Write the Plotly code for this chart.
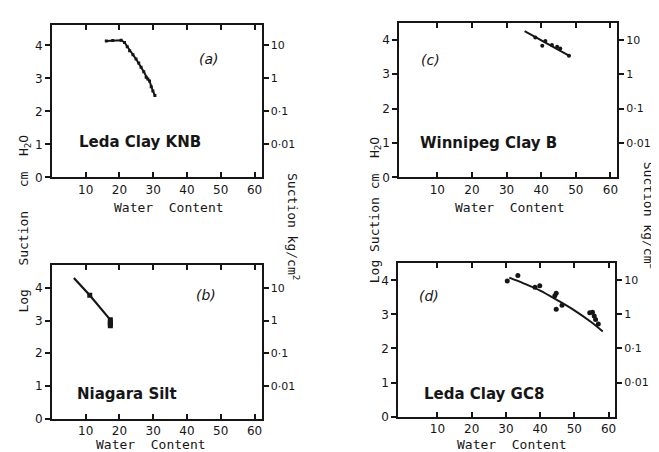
import plotly.graph_objects as go

# ---------------- data ----------------
# (a) Leda Clay KNB
a_w = [16.1, 18.0, 20.5, 21.5, 22.3, 23.0, 24.0, 24.9, 25.7, 26.4, 27.2, 27.9, 28.4, 28.9, 29.4, 29.9, 30.5]
a_s = [4.14, 4.15, 4.16, 4.09, 3.96, 3.84, 3.72, 3.59, 3.47, 3.34, 3.20, 3.04, 2.98, 2.92, 2.75, 2.62, 2.48]
# (b) Niagara Silt
b_w = [6.5, 11.2, 17.3]
b_s = [4.30, 3.77, 3.02]
b_pts_w = [11.2, 17.3, 17.3, 17.3, 17.3]
b_pts_s = [3.77, 3.02, 2.95, 2.89, 2.84]
# (c) Winnipeg Clay B
c_fit_w = [35.2, 48.4]
c_fit_s = [4.26, 3.52]
c_w = [38.3, 40.3, 41.2, 43.1, 44.6, 45.5, 48.0]
c_s = [4.07, 3.83, 3.97, 3.85, 3.80, 3.75, 3.54]
# (d) Leda Clay GC8
d_fit_w = [31.0, 35.0, 40.0, 45.0, 50.0, 55.0, 58.3]
d_fit_s = [4.08, 3.92, 3.70, 3.42, 3.12, 2.77, 2.50]
d_w = [30.4, 33.5, 38.5, 39.9, 44.3, 44.7, 44.7, 46.4, 54.5, 55.3, 55.8, 56.2, 57.0]
d_s = [3.98, 4.14, 3.80, 3.84, 3.55, 3.62, 3.15, 3.27, 3.05, 3.06, 2.95, 2.85, 2.72]

x_ticks = [10, 20, 30, 40, 50, 60]
y_ticks = [0, 1, 2, 3, 4]
r_tickvals = [1, 2, 3, 4]
r_ticktext = ["0\u00b701", "0\u00b71", "1", "10"]

W, H = 659, 452
INK = "#161616"


def px(x, y):
    return x / W, 1 - y / H


fig = go.Figure()

# panel (a)
fig.add_trace(go.Scatter(x=a_w, y=a_s, mode="lines+markers", xaxis="x", yaxis="y",
                         line=dict(color=INK, width=2), marker=dict(color=INK, size=3, symbol="square")))
# panel (b)
fig.add_trace(go.Scatter(x=b_w, y=b_s, mode="lines", xaxis="x2", yaxis="y2",
                         line=dict(color=INK, width=2.2)))
fig.add_trace(go.Scatter(x=b_pts_w, y=b_pts_s, mode="markers", xaxis="x2", yaxis="y2",
                         marker=dict(color=INK, size=5, symbol="square")))
# panel (c)
fig.add_trace(go.Scatter(x=c_fit_w, y=c_fit_s, mode="lines", xaxis="x3", yaxis="y3",
                         line=dict(color=INK, width=2)))
fig.add_trace(go.Scatter(x=c_w, y=c_s, mode="markers", xaxis="x3", yaxis="y3",
                         marker=dict(color=INK, size=4)))
# panel (d)
fig.add_trace(go.Scatter(x=d_fit_w, y=d_fit_s, mode="lines", xaxis="x4", yaxis="y4",
                         line=dict(color=INK, width=2, shape="spline")))
fig.add_trace(go.Scatter(x=d_w, y=d_s, mode="markers", xaxis="x4", yaxis="y4",
                         marker=dict(color=INK, size=5)))
# invisible traces for right axes
for k in range(5, 9):
    fig.add_trace(go.Scatter(x=[None], y=[None], xaxis="x%d" % (k - 4), yaxis="y%d" % k,
                             mode="markers", showlegend=False, hoverinfo="skip"))

panels = {
    1: dict(px_x=(44, 254), px_y=(17, 172), xr=[0, 62.1], yr=[0, 4.63]),
    2: dict(px_x=(44, 254), px_y=(261, 417), xr=[0, 62.1], yr=[0, 4.7]),
    3: dict(px_x=(392, 610), px_y=(15, 172), xr=[-0.95, 61.9], yr=[0, 4.5]),
    4: dict(px_x=(391, 608), px_y=(259, 415), xr=[-1.4, 61.9], yr=[0, 4.51]),
}

tickfont = dict(family="DejaVu Sans", size=12, color=INK)
layout = dict(width=W, height=H, margin=dict(l=0, r=0, t=0, b=0),
              paper_bgcolor="white", plot_bgcolor="white", showlegend=False)

for k, p in panels.items():
    xd = [p["px_x"][0] / W, p["px_x"][1] / W]
    yd = [1 - p["px_y"][1] / H, 1 - p["px_y"][0] / H]
    xs = "" if k == 1 else str(k)
    layout["xaxis" + xs] = dict(domain=xd, range=p["xr"], tickvals=x_ticks, ticks="inside",
                                ticklen=5, tickwidth=2, tickcolor=INK, mirror="ticks",
                                showline=True, linewidth=2, linecolor=INK, showgrid=False,
                                zeroline=False, anchor="y" + xs, tickfont=tickfont)
    layout["yaxis" + xs] = dict(domain=yd, range=p["yr"], tickvals=y_ticks, ticks="outside",
                                ticklen=5, tickwidth=2, tickcolor=INK, showline=True,
                                linewidth=2, linecolor=INK, showgrid=False, zeroline=False,
                                anchor="x" + xs, tickfont=tickfont)
    layout["yaxis%d" % (k + 4)] = dict(overlaying="y" + xs, side="right", range=p["yr"],
                                       tickvals=r_tickvals, ticktext=r_ticktext,
                                       ticks="outside", ticklen=5, tickwidth=2, tickcolor=INK,
                                       showline=True, linewidth=2, linecolor=INK,
                                       showgrid=False, zeroline=False, anchor="x" + xs,
                                       tickfont=dict(family="DejaVu Sans", size=11, color=INK))

fig.update_layout(**layout)

NB = "\u00a0"
mono = dict(family="DejaVu Sans Mono", size=13, color=INK)
ann = []


def add_text(x, y, text, font, angle=0):
    xx, yy = px(x, y)
    ann.append(dict(x=xx, y=yy, xref="paper", yref="paper", text=text, showarrow=False,
                    font=font, textangle=angle, xanchor="center", yanchor="middle"))


# x axis titles
for (x, y) in [(161, 203), (503, 203), (143, 443), (505, 443)]:
    add_text(x, y, "Water" + NB * 2 + "Content", mono)

# left vertical titles
ytitle_l = "Log" + NB * 3 + "Suction" + NB * 3 + "cm" + NB * 2 + "H<sub>2</sub>O"
ytitle_r = "Log" + NB + "Suction" + NB + "cm" + NB * 2 + "H<sub>2</sub>O"
add_text(17, 219, ytitle_l, mono, -90)
add_text(368, 205, ytitle_r, mono, -90)

# right vertical titles
rtitle = "Suction" + NB + "kg/cm<sup>2</sup>"
add_text(286, 222, rtitle, mono, 90)
add_text(643, 210, rtitle, mono, 90)

# panel labels
bold = dict(family="DejaVu Sans", size=15, color=INK)
ital = dict(family="DejaVu Sans", size=14, color=INK)
add_text(132, 136, "<b>Leda Clay KNB</b>", bold)
add_text(481, 137, "<b>Winnipeg Clay B</b>", bold)
add_text(119, 392, "<b>Niagara Silt</b>", bold)
add_text(477, 392, "<b>Leda Clay GC8</b>", bold)
add_text(201, 52, "<i>(a)</i>", ital)
add_text(423, 53, "<i>(c)</i>", ital)
add_text(198, 292, "<i>(b)</i>", ital)
add_text(422, 293, "<i>(d)</i>", ital)

fig.update_layout(annotations=ann)
fig.write_html("out.html")
